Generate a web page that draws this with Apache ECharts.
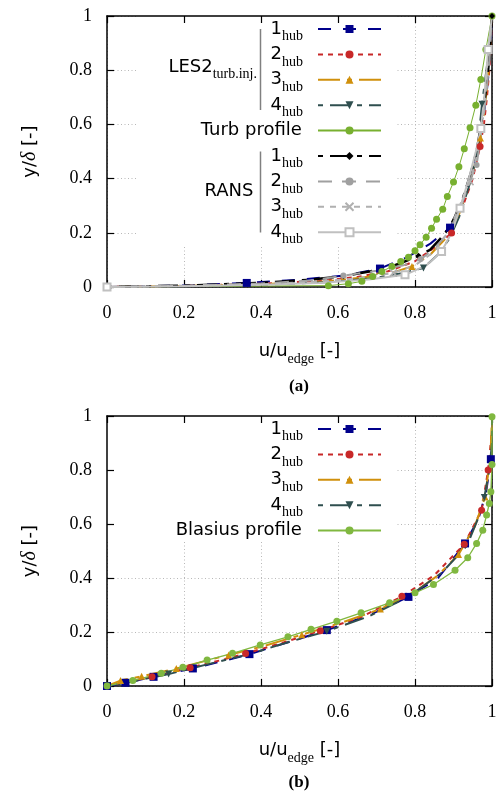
<!DOCTYPE html>
<html><head><meta charset="utf-8">
<script src="https://cdn.jsdelivr.net/npm/echarts@6/dist/echarts.min.js"></script>
<style>html,body{margin:0;padding:0;background:#fff}#c{width:502px;height:795px}</style>
</head><body><div id="c"></div>
<script>
// ---------- data ----------
const axisTicks = [0, 0.2, 0.4, 0.6, 0.8, 1];

// (a) LES2 turb.inj. / Turb profile / RANS   [u/u_edge, y/delta]
const aLes1 = [[0,0],[0.18,0.005],[0.363,0.015],[0.50,0.027],[0.62,0.043],[0.709,0.068],[0.78,0.11],[0.84,0.16],[0.891,0.219],[0.92,0.30],[0.945,0.40],[0.962,0.50],[0.975,0.60],[0.985,0.70],[0.992,0.80],[0.997,0.90],[1,1]];
const aLes2 = [[0,0],[0.2,0.004],[0.4,0.012],[0.55,0.022],[0.65,0.037],[0.73,0.058],[0.80,0.095],[0.85,0.145],[0.895,0.199],[0.925,0.30],[0.95,0.40],[0.969,0.518],[0.979,0.60],[0.987,0.70],[0.993,0.80],[0.997,0.90],[1,1]];
const aLes3 = [[0,0],[0.2,0.004],[0.4,0.010],[0.56,0.020],[0.66,0.034],[0.74,0.052],[0.792,0.076],[0.84,0.12],[0.88,0.18],[0.91,0.25],[0.935,0.35],[0.955,0.45],[0.97,0.55],[0.98,0.65],[0.99,0.78],[0.996,0.90],[1,1]];
const aLes4 = [[0,0],[0.2,0.003],[0.4,0.008],[0.58,0.018],[0.70,0.034],[0.77,0.052],[0.822,0.070],[0.86,0.12],[0.89,0.18],[0.915,0.26],[0.94,0.37],[0.96,0.48],[0.974,0.674],[0.99,0.85],[1,1]];
const aTurb = [[0,0],[0.575,0.005],[0.627,0.012],[0.662,0.021],[0.690,0.039],[0.714,0.057],[0.740,0.076],[0.763,0.094],[0.783,0.110],[0.800,0.134],[0.813,0.156],[0.829,0.184],[0.843,0.217],[0.856,0.250],[0.872,0.287],[0.884,0.334],[0.900,0.387],[0.914,0.444],[0.928,0.510],[0.943,0.588],[0.958,0.671],[0.971,0.766],[0.984,0.876],[1.0,1.0]];
const aRans1 = [[0,0],[0.2,0.005],[0.4,0.015],[0.52,0.026],[0.614,0.040],[0.709,0.064],[0.76,0.086],[0.809,0.115],[0.839,0.137],[0.865,0.177],[0.89,0.22],[0.904,0.26],[0.925,0.33],[0.945,0.42],[0.96,0.50],[0.972,0.60],[0.982,0.70],[0.99,0.80],[0.996,0.90],[1,1]];
const aRans2 = [[0,0],[0.2,0.005],[0.4,0.013],[0.53,0.024],[0.614,0.042],[0.70,0.060],[0.77,0.080],[0.815,0.103],[0.85,0.14],[0.88,0.19],[0.90,0.24],[0.925,0.32],[0.945,0.40],[0.960,0.45],[0.970,0.55],[0.980,0.65],[0.988,0.75],[0.994,0.85],[1,1]];
const aRans3 = [[0,0],[0.2,0.004],[0.4,0.010],[0.55,0.020],[0.65,0.032],[0.744,0.052],[0.80,0.080],[0.85,0.13],[0.885,0.20],[0.91,0.28],[0.943,0.389],[0.96,0.48],[0.972,0.58],[0.982,0.68],[0.99,0.876],[1,1]];
const aRans4 = [[0,0],[0.2,0.003],[0.4,0.008],[0.55,0.015],[0.68,0.028],[0.774,0.045],[0.83,0.08],[0.869,0.131],[0.895,0.20],[0.917,0.291],[0.94,0.40],[0.958,0.50],[0.971,0.585],[0.98,0.70],[0.99,0.876],[1,1]];

// (b) LES / Blasius profile
const bLes1 = [[0,0],[0.048,0.012],[0.121,0.034],[0.223,0.065],[0.30,0.092],[0.370,0.118],[0.47,0.162],[0.571,0.207],[0.68,0.262],[0.783,0.330],[0.86,0.40],[0.930,0.528],[0.965,0.62],[0.985,0.72],[0.997,0.84],[1,0.93],[1,1]];
const bLes2 = [[0,0],[0.045,0.014],[0.117,0.034],[0.216,0.068],[0.30,0.097],[0.36,0.12],[0.46,0.162],[0.554,0.205],[0.66,0.255],[0.766,0.332],[0.85,0.41],[0.928,0.525],[0.973,0.651],[0.99,0.80],[1,0.95],[1,1]];
const bLes3 = [[0,0],[0.035,0.020],[0.09,0.036],[0.18,0.065],[0.316,0.115],[0.40,0.145],[0.506,0.19],[0.61,0.235],[0.71,0.285],[0.80,0.35],[0.86,0.41],[0.913,0.487],[0.955,0.59],[0.982,0.70],[0.996,0.85],[1,1]];
const bLes4 = [[0,0],[0.05,0.012],[0.16,0.044],[0.26,0.08],[0.37,0.118],[0.47,0.162],[0.571,0.203],[0.68,0.258],[0.78,0.328],[0.87,0.42],[0.935,0.52],[0.965,0.625],[0.98,0.698],[0.993,0.80],[1,0.90],[1,1]];
const bBlasius = [[0,0],[0.067,0.020],[0.141,0.047],[0.197,0.069],[0.260,0.096],[0.326,0.121],[0.398,0.152],[0.470,0.182],[0.530,0.210],[0.597,0.240],[0.660,0.271],[0.734,0.308],[0.800,0.345],[0.848,0.376],[0.904,0.429],[0.937,0.475],[0.960,0.528],[0.976,0.577],[0.986,0.633],[0.993,0.676],[0.997,0.719],[1.0,0.82],[1.0,0.997]];

// ---------- styles ----------
const SANS = 'DejaVu Sans', SERIF = 'Liberation Serif';
const XPATH = 'path://M0,0L10,10M10,0L0,10';
const ST = {
  les1: {color:'#00008b', width:2, dash:[13,12], symbol:'rect', size:8},
  les2: {color:'#c82828', width:2, dash:[5,5], symbol:'circle', size:7},
  les3: {color:'#d0900c', width:2, dash:[22,7,5,7], symbol:'triangle', size:7},
  les4: {color:'#2f4f4f', width:2, dash:[5,7,20,7], symbol:'triangle', size:7, rotate:180},
  turb: {color:'#78b030', width:1, dash:'solid', symbol:'circle', size:7},
  rans1:{color:'#000000', width:2.5, dash:[5,7,20,7], symbol:'diamond', size:6},
  rans2:{color:'#a0a0a0', width:2, dash:[14,10], symbol:'circle', size:6},
  rans3:{color:'#b0b0b0', width:2, dash:[6,6], symbol:XPATH, size:7, border:true},
  rans4:{color:'#c0c0c0', width:2, dash:'solid', symbol:'emptyRect', size:7, border:true},
  blas: {color:'#80b840', width:1.3, dash:'solid', symbol:'circle', size:7}
};

function series(name, data, st, marks, gi) {
  return {
    type:'line', name: name, xAxisIndex: gi*3, yAxisIndex: gi*3, z: 3,
    data: data.map((p, i) => marks.indexOf(i) >= 0 ? {value: p} : {value: p, symbol: 'none'}),
    symbol: st.symbol, symbolSize: st.size, symbolRotate: st.rotate || 0,
    showSymbol: true, showAllSymbol: true, clip: false,
    lineStyle: {color: st.color, width: st.width, type: st.dash},
    itemStyle: st.border ? {color: st.color, borderColor: st.color, borderWidth: 1.6}
                         : {color: st.color, borderWidth: 0},
    emphasis: {disabled: true}, silent: true
  };
}
const all = (arr) => arr.map((_, i) => i);

const seriesList = [
  series('a-les1', aLes1, ST.les1, [2,5,8], 0),
  series('a-les2', aLes2, ST.les2, [8,11], 0),
  series('a-les3', aLes3, ST.les3, [6,12], 0),
  series('a-les4', aLes4, ST.les4, [6,12], 0),
  series('a-turb', aTurb, ST.turb, all(aTurb).slice(1), 0),
  series('a-rans1', aRans1, ST.rans1, [4,7,19], 0),
  series('a-rans2', aRans2, ST.rans2, [4,7,13], 0),
  series('a-rans3', aRans3, ST.rans3, [5,10,14], 0),
  series('a-rans4', aRans4, ST.rans4, [0,5,7,9,12,14], 0),
  series('b-les1', bLes1, ST.les1, [0,1,2,3,5,7,9,11,14], 1),
  series('b-les2', bLes2, ST.les2, [2,3,5,7,9,11,12,13], 1),
  series('b-les3', bLes3, ST.les3, [1,2,3,4,6,8,11,13], 1),
  series('b-les4', bLes4, ST.les4, [0,2,6,12], 1),
  series('b-blas', bBlasius, ST.blas, all(bBlasius), 1)
];

const LBL = {
  'a-les1':'{m|1}{sp|hub}','a-les2':'{m|2}{sp|hub}','a-les3':'{m|3}{sp|hub}','a-les4':'{m|4}{sp|hub}',
  'a-turb':'{m|Turb profile}{sp|\u200a}',
  'a-rans1':'{m|1}{sp|hub}','a-rans2':'{m|2}{sp|hub}','a-rans3':'{m|3}{sp|hub}','a-rans4':'{m|4}{sp|hub}',
  'b-les1':'{m|1}{sp|hub}','b-les2':'{m|2}{sp|hub}','b-les3':'{m|3}{sp|hub}','b-les4':'{m|4}{sp|hub}',
  'b-blas':'{m|Blasius profile}{sp|\u200a}'
};
const RICH = {
  m:  {fontFamily:SANS, fontSize:18, color:'#000', lineHeight:29},
  s:  {fontFamily:SERIF, fontSize:14, color:'#000', lineHeight:14, verticalAlign:'top', padding:[15,0,0,0]},
  sp: {fontFamily:SERIF, fontSize:14, color:'#000', lineHeight:14, verticalAlign:'top', padding:[15,10,0,0]},
  n:  {fontFamily:SANS, fontSize:18, color:'#000', lineHeight:22},
  d:  {fontFamily:SERIF, fontStyle:'italic', fontSize:20, color:'#000', lineHeight:22}
};

function legend(names, top) {
  return {
    data: names, orient:'vertical', align:'right', right:120, top: top, padding:0,
    itemWidth:63, itemHeight:10, itemGap:-3.6, selectedMode:false,
    formatter: n => LBL[n], textStyle:{rich: RICH}
  };
}

const min = axisTicks[0], max = axisTicks[axisTicks.length-1], step = axisTicks[1]-axisTicks[0];
function axesFor(kind, gi) {
  const base = {type:'value', gridIndex: gi, min:min, max:max, interval:step};
  const frame = {
    axisLine:{show:true, onZero:false, lineStyle:{color:'#000', width:1.5}},
    axisTick:{show:true, inside:true, length:7, lineStyle:{color:'#000', width:1.2}},
    splitLine:{show:false}, z:2
  };
  const isX = kind === 'x';
  const main = Object.assign({}, base, frame, {
    position: isX ? 'bottom' : 'left',
    axisLabel:{show:true, fontFamily:SERIF, fontSize:18, color:'#000', margin: isX ? 17 : 15},
    name: isX ? '{m|u/u}{s|edge}{m| [-]}' : '{n|y/}{d|δ}{n| [-]}',
    nameLocation:'middle', nameGap: isX ? 50 : 66,
    nameTextStyle:{rich: RICH}
  });
  const mirror = Object.assign({}, base, frame, {position: isX ? 'top' : 'right', axisLabel:{show:false}});
  const grid = Object.assign({}, base, {
    position: isX ? 'bottom' : 'left', z:0,
    axisLine:{show:false}, axisTick:{show:false}, axisLabel:{show:false},
    splitLine:{show:true, lineStyle:{color:'#b8b8b8', width:1, type:[1,2.5]}}
  });
  return [main, mirror, grid];
}

const option = {
  animation:false,
  backgroundColor:'#fff',
  grid:[
    {left:107, top:16, width:385, height:271},
    {left:107, top:416, width:385, height:270}
  ],
  xAxis: axesFor('x',0).concat(axesFor('x',1)),
  yAxis: axesFor('y',0).concat(axesFor('y',1)),
  legend:[
    legend(['a-les1','a-les2','a-les3','a-les4','a-turb','a-rans1','a-rans2','a-rans3','a-rans4'], 14.5),
    legend(['b-les1','b-les2','b-les3','b-les4','b-blas'], 414.5)
  ],
  series: seriesList
};

const chart = echarts.init(document.getElementById('c'));
chart.setOption(option);

// key boxes (opaque legend background, hides grid lines) and annotations
const px = (gi, u, v) => chart.convertToPixel({gridIndex: gi}, [u, v]);
const a0 = px(0, 0.079, 1), a1 = px(0, 0.752, 0.15);
const b0 = px(1, 0, 1), b1 = px(1, 0.752, 0.534);
const zr = () => ({
  m:{fontFamily:SANS, fontSize:18, fill:'#000', lineHeight:29},
  s:{fontFamily:SERIF, fontSize:14, fill:'#000', lineHeight:14, verticalAlign:'top', padding:[15,0,0,0]}
});
chart.setOption({
  graphic:[
    {type:'rect', z:1, silent:true, shape:{x:a0[0], y:a0[1], width:a1[0]-a0[0], height:a1[1]-a0[1]}, style:{fill:'#fff'}},
    {type:'rect', z:1, silent:true, shape:{x:b0[0], y:b0[1], width:b1[0]-b0[0], height:b1[1]-b0[1]}, style:{fill:'#fff'}},
    {type:'line', z:4, silent:true, shape:{x1:260.5, y1:29, x2:260.5, y2:110}, style:{stroke:'#808080', lineWidth:1.5}},
    {type:'line', z:4, silent:true, shape:{x1:260.5, y1:151.5, x2:260.5, y2:232.5}, style:{stroke:'#808080', lineWidth:1.5}},
    {type:'text', z:4, silent:true, x:257, y:67, style:{text:'{m|LES2}{s|turb.inj.}', rich:zr(), align:'right', verticalAlign:'middle'}},
    {type:'text', z:4, silent:true, x:253.5, y:191, style:{text:'RANS', fontFamily:SANS, fontSize:18, fill:'#000', align:'right', verticalAlign:'middle'}},
    {type:'text', z:4, silent:true, x:299, y:387, style:{text:'(a)', fontFamily:SERIF, fontWeight:'bold', fontSize:17, fill:'#000', align:'center', verticalAlign:'middle'}},
    {type:'text', z:4, silent:true, x:299, y:783, style:{text:'(b)', fontFamily:SERIF, fontWeight:'bold', fontSize:17, fill:'#000', align:'center', verticalAlign:'middle'}}
  ]
});
</script>
</body></html>
